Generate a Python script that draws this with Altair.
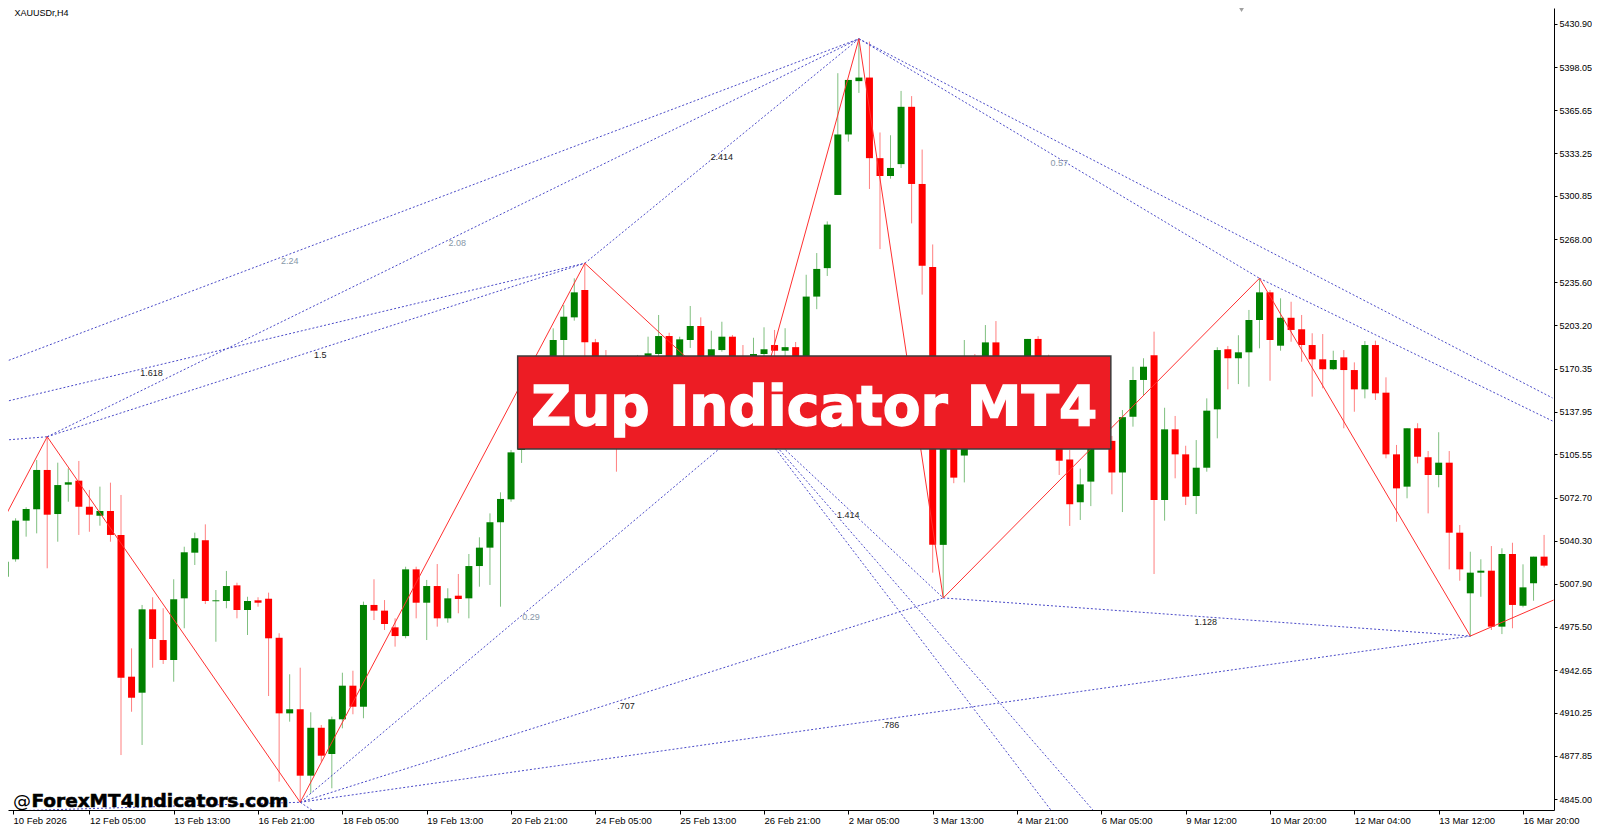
import json
import altair as alt
import pandas as pd

# ---------------- data ----------------
idx = list(range(147))
open_ = [5013.1, 5026.3, 5055.5, 5064.1, 5093.8, 5060.5, 5082.7, 5085.7, 5066.0, 5059.2,
         5062.8, 5044.7, 4937.6, 4925.5, 4988.5, 4965.3, 4950.2, 4996.8, 5031.3, 5040.7,
         4994.6, 4994.8, 5006.6, 4988.0, 4995.3, 4996.5, 4967.0, 4909.9, 4913.0, 4862.8,
         4899.0, 4879.2, 4905.4, 4930.8, 4914.9, 4991.8, 4987.5, 4974.9, 4968.3, 5018.7,
         4993.5, 5006.1, 4981.7, 4998.8, 4996.8, 5021.2, 5035.1, 5054.3, 5071.6, 5108.9,
         5146.7, 5167.8, 5161.8, 5192.0, 5209.1, 5229.8, 5190.3, 5173.1, 5163.3, 5146.7,
         5158.0, 5173.1, 5181.4, 5195.0, 5175.4, 5192.0, 5202.6, 5175.4, 5184.4, 5194.5,
         5170.8, 5146.7, 5181.4, 5188.2, 5183.9, 5186.6, 5173.1, 5224.8, 5246.3, 5301.6,
         5347.3, 5387.6, 5390.3, 5329.4, 5315.9, 5324.9, 5368.2, 5309.9, 5247.2, 5037.2,
         5124.0, 5104.7, 5161.8, 5146.7, 5190.2, 5161.8, 5146.7, 5165.5, 5192.8, 5165.5,
         5131.6, 5101.7, 5069.4, 5085.0, 5116.4, 5115.8, 5091.9, 5134.0, 5161.8, 5180.4,
         5071.1, 5124.5, 5105.6, 5074.1, 5095.5, 5139.6, 5185.0, 5178.2, 5182.7, 5207.1,
         5228.0, 5187.7, 5208.8, 5200.1, 5188.2, 5177.4, 5169.9, 5178.9, 5169.3, 5154.7,
         5188.2, 5152.2, 5105.6, 5081.2, 5125.3, 5103.4, 5090.0, 5099.3, 5046.4, 5000.6,
         5016.2, 5017.7, 4975.4, 5030.3, 4991.2, 5008.2, 5028.3]
high = [5033.3, 5057.3, 5065.6, 5101.3, 5118.9, 5099.3, 5095.0, 5100.6, 5078.7, 5081.2,
        5084.2, 5074.9, 4959.0, 4991.8, 4997.6, 4989.3, 5011.2, 5035.8, 5046.4, 5052.7,
        5003.1, 5017.5, 5008.6, 4998.0, 4997.6, 5001.1, 4970.4, 4939.4, 4944.4, 4910.7,
        4901.1, 4907.4, 4940.6, 4942.1, 4994.3, 5011.2, 4995.5, 4981.7, 5020.7, 5020.7,
        5010.7, 5022.7, 5004.4, 5015.2, 5030.3, 5042.9, 5061.0, 5076.9, 5108.9, 5152.7,
        5175.4, 5176.9, 5200.8, 5218.4, 5238.6, 5250.0, 5192.8, 5184.4, 5173.1, 5165.5,
        5180.7, 5194.5, 5210.9, 5197.5, 5194.5, 5217.7, 5209.1, 5199.0, 5205.8, 5195.8,
        5188.2, 5193.7, 5201.6, 5199.6, 5200.9, 5190.5, 5241.3, 5257.7, 5281.6, 5393.6,
        5388.5, 5419.6, 5417.5, 5348.8, 5346.7, 5380.2, 5376.3, 5335.9, 5264.2, 5131.6,
        5135.3, 5192.0, 5181.4, 5203.3, 5206.3, 5173.1, 5173.1, 5192.8, 5194.9, 5180.9,
        5146.7, 5108.9, 5094.8, 5124.0, 5124.0, 5119.5, 5139.1, 5171.8, 5178.2, 5198.3,
        5140.8, 5134.6, 5112.1, 5116.4, 5147.9, 5186.5, 5187.5, 5195.6, 5214.7, 5238.6,
        5229.8, 5223.5, 5220.9, 5210.9, 5197.1, 5196.5, 5183.9, 5184.4, 5175.1, 5191.2,
        5191.5, 5163.8, 5112.7, 5125.3, 5129.1, 5108.1, 5122.3, 5108.1, 5052.2, 5032.0,
        5026.3, 5036.3, 5034.6, 5038.8, 5022.5, 5028.3, 5044.7]
low = [5009.4, 5024.5, 5043.4, 5045.9, 5019.5, 5039.6, 5069.8, 5044.7, 5047.1, 5051.7,
       5039.6, 4878.4, 4911.1, 4886.0, 4944.4, 4947.2, 4933.8, 4974.2, 5022.0, 4992.5,
       4964.0, 4989.3, 4981.7, 4969.1, 4990.5, 4923.0, 4858.3, 4903.6, 4842.7, 4849.5,
       4873.4, 4853.3, 4898.6, 4909.2, 4906.2, 4980.4, 4972.9, 4960.3, 4966.6, 4981.7,
       4965.3, 4975.4, 4978.4, 4985.5, 4981.7, 5005.6, 5006.9, 4990.5, 5069.8, 5099.1,
       5139.1, 5150.4, 5155.7, 5178.4, 5206.6, 5176.9, 5161.8, 5152.7, 5092.5, 5131.6,
       5146.7, 5167.8, 5175.4, 5169.3, 5167.8, 5186.0, 5167.8, 5169.3, 5183.2, 5161.8,
       5142.9, 5131.6, 5167.8, 5173.1, 5175.4, 5167.8, 5167.8, 5215.3, 5240.4, 5301.6,
       5341.9, 5378.7, 5306.1, 5260.7, 5313.9, 5322.0, 5280.1, 5226.3, 5016.2, 4997.1,
       5083.8, 5084.4, 5131.6, 5139.1, 5150.4, 5135.3, 5131.6, 5158.0, 5154.2, 5135.3,
       5090.0, 5051.5, 5056.0, 5066.5, 5112.0, 5075.4, 5062.0, 5126.5, 5150.4, 5015.2,
       5055.5, 5087.5, 5067.3, 5060.5, 5092.5, 5117.7, 5154.7, 5158.7, 5156.7, 5185.7,
       5161.2, 5183.9, 5190.7, 5175.6, 5149.2, 5155.5, 5169.3, 5125.3, 5137.8, 5147.9,
       5146.7, 5102.6, 5054.7, 5072.4, 5098.8, 5061.0, 5080.7, 5018.7, 5010.1, 4967.8,
       4998.0, 4972.9, 4969.8, 4974.2, 4990.0, 4995.0, 5020.2]
close = [5024.5, 5055.5, 5064.3, 5093.8, 5060.0, 5082.4, 5084.5, 5066.0, 5060.0, 5062.8,
         5044.7, 4936.8, 4921.7, 4988.5, 4966.1, 4950.2, 4996.1, 5031.6, 5042.2, 4994.8,
         4995.3, 5006.1, 4988.0, 4994.8, 4993.5, 4966.6, 4909.9, 4913.0, 4862.8, 4899.0,
         4877.9, 4905.4, 4930.8, 4914.9, 4991.8, 4987.5, 4977.4, 4968.3, 5018.7, 4993.5,
         5006.1, 4981.7, 4996.8, 4996.3, 5021.2, 5035.1, 5054.3, 5071.9, 5107.1, 5146.7,
         5167.8, 5161.8, 5192.0, 5209.6, 5228.0, 5190.3, 5173.1, 5163.3, 5146.7, 5158.0,
         5173.1, 5181.9, 5195.0, 5175.4, 5192.5, 5202.6, 5175.4, 5185.0, 5194.5, 5170.8,
         5150.4, 5181.4, 5185.0, 5183.9, 5186.6, 5173.1, 5224.8, 5245.7, 5279.2, 5347.3,
         5388.5, 5390.3, 5329.4, 5315.9, 5322.0, 5368.2, 5309.9, 5248.1, 5037.2, 5124.0,
         5088.0, 5161.8, 5146.7, 5190.2, 5161.8, 5146.7, 5165.5, 5192.8, 5165.5, 5146.7,
         5100.8, 5067.9, 5082.9, 5116.4, 5115.0, 5091.9, 5133.7, 5161.8, 5171.8, 5071.1,
         5124.5, 5105.6, 5073.6, 5095.5, 5138.6, 5184.4, 5178.2, 5182.7, 5207.1, 5228.0,
         5192.0, 5208.8, 5199.6, 5188.2, 5177.4, 5169.9, 5176.9, 5169.3, 5154.7, 5188.2,
         5151.7, 5105.6, 5079.9, 5125.3, 5103.8, 5090.0, 5099.3, 5046.4, 5018.7, 5016.2,
         5017.7, 4975.4, 5030.3, 4991.8, 5005.1, 5028.3, 5021.5]

tick_idx = list(range(0, 145, 8))
tick_text = ["10 Feb 2026", "12 Feb 05:00", "13 Feb 13:00", "16 Feb 21:00", "18 Feb 05:00",
             "19 Feb 13:00", "20 Feb 21:00", "24 Feb 05:00", "25 Feb 13:00", "26 Feb 21:00",
             "2 Mar 05:00", "3 Mar 13:00", "4 Mar 21:00", "6 Mar 05:00", "9 Mar 12:00",
             "10 Mar 20:00", "12 Mar 04:00", "13 Mar 12:00", "16 Mar 20:00"]
y_ticks = [4845.00, 4877.85, 4910.25, 4942.65, 4975.50, 5007.90, 5040.30, 5072.70, 5105.55,
           5137.95, 5170.35, 5203.20, 5235.60, 5268.00, 5300.85, 5333.25, 5365.65, 5398.05,
           5430.90]

# ZigZag pivots
zz_idx = [0, 4, 28, 55, 71, 81, 89, 119, 139, 146.9]
zz_price = [5058.5, 5118.9, 4842.7, 5250.0, 5131.6, 5419.6, 4997.1, 5238.6, 4968.3, 4995.5]

# dotted ratio lines (start idx, start price, end idx, end price)
fib_x1 = [0, 4, 0, 4, 0, 55, 28, 0, 28, 28, 28, 71, 71, 71, 89, 81, 81, 119]
fib_p1 = [5175.6, 5118.9, 5145.4, 5118.9, 5116.4, 5250.0, 4842.7, 4836.0, 4842.7, 4842.7,
          4842.7, 5131.6, 5131.6, 5131.6, 4997.1, 5419.6, 5419.6, 5238.6]
fib_x2 = [81, 81, 55, 55, 4, 81, 71, 28, 30.8, 89, 139, 89, 100.0, 104.1, 139, 119, 146.8, 146.8]
fib_p2 = [5419.6, 5419.6, 5250.0, 5250.0, 5118.9, 5419.6, 5131.6, 4842.7, 4827.8, 4997.1,
          4968.3, 4997.1, 4828.6, 4828.6, 4968.3, 5238.6, 5148.2, 5130.8]

lab_text = ["2.24", "2.08", "1.618", "1.5", "2.414", "0.29", ".707", ".786", "1.414", "1.128", "0.57"]
lab_idx = [27.0, 42.9, 13.9, 29.9, 68.0, 49.9, 58.9, 84.0, 80.0, 113.9, 100.0]
lab_price = [5251.9, 5265.5, 5167.3, 5180.7, 5330.5, 4982.5, 4915.4, 4901.1, 5059.8, 4978.6, 5325.5]
lab_kind = ["grey", "grey", "dark", "dark", "dark", "grey", "dark", "dark", "dark", "dark", "grey"]

# ---------------- scales / layout ----------------
W, H = 1546, 802
X0 = 0.754
X1 = X0 + W / 10.61
P_TOP = 5442.86
P_BOT = P_TOP - H * 0.7556

XS = alt.Scale(domain=[X0, X1], nice=False, zero=False)
YS = alt.Scale(domain=[P_BOT, P_TOP], nice=False, zero=False)

x_vals = [max(v, X0) for v in tick_idx]
x_axis = alt.Axis(values=x_vals, labelExpr=json.dumps(tick_text) + "[round(datum.value/8)]",
                  orient="bottom", grid=False, domainColor="#000", tickColor="#000", tickSize=4,
                  labelAlign="left", labelBaseline="top", labelPadding=1,
                  labelFont="Liberation Sans", labelFontSize=9.5, labelColor="#000",
                  labelOverlap=False, labelFlush=False, labelBound=False, title=None)
y_axis = alt.Axis(values=y_ticks, format=".2f", orient="right", grid=False,
                  domainColor="#000", tickColor="#000", tickSize=3, labelPadding=2,
                  labelFont="Liberation Sans", labelFontSize=9, labelColor="#000",
                  labelOverlap=False, labelFlush=False, title=None)


def X(f):
    return alt.X(f"{f}:Q", scale=XS, axis=x_axis, title=None)


def Y(f):
    return alt.Y(f"{f}:Q", scale=YS, axis=y_axis, title=None)


df = pd.DataFrame({"idx": idx, "open": open_, "high": high, "low": low, "close": close})
df["dir"] = ["up" if c >= o else "down" for o, c in zip(open_, close)]
col = alt.Color("dir:N", scale=alt.Scale(domain=["up", "down"], range=["#008000", "#ff0000"]), legend=None)

base = alt.Chart(df)
wicks = base.mark_rule(strokeWidth=1, opacity=0.5, clip=True).encode(
    x=X("idx"), y=Y("low"), y2=alt.Y2("high"), color=col)
bodies = base.mark_bar(size=7, clip=True).encode(
    x=X("idx"), y=Y("open"), y2=alt.Y2("close"), color=col)

fib_df = pd.DataFrame({"x1": fib_x1, "p1": fib_p1, "x2": fib_x2, "p2": fib_p2})
fib = alt.Chart(fib_df).mark_rule(color="#4a4ac8", strokeWidth=1, strokeDash=[2, 2], clip=True).encode(
    x=X("x1"), y=Y("p1"), x2=alt.X2("x2"), y2=alt.Y2("p2"))

lab_df = pd.DataFrame({"t": lab_text, "i": lab_idx, "p": lab_price, "k": lab_kind})
lab_grey = alt.Chart(lab_df).transform_filter("datum.k == 'grey'").mark_text(
    font="Liberation Sans", fontSize=9, color="#8797a8", align="center", baseline="middle").encode(
    x=X("i"), y=Y("p"), text="t:N")
lab_dark = alt.Chart(lab_df).transform_filter("datum.k == 'dark'").mark_text(
    font="Liberation Sans", fontSize=9, color="#222222", align="center", baseline="middle").encode(
    x=X("i"), y=Y("p"), text="t:N")

zz_df = pd.DataFrame({"i": zz_idx, "p": zz_price})
zigzag = alt.Chart(zz_df).mark_line(color="#ff3030", strokeWidth=1, clip=True).encode(
    x=X("i"), y=Y("p"), order=alt.Order("i:Q"))

# banner and captions
ban_df = pd.DataFrame({"a": [48.63], "b": [104.9], "top": [5179.9], "bot": [5109.6]})
banner = alt.Chart(ban_df).mark_rect(fill="#ed1c24", stroke="#3c3c3c", strokeWidth=1.5).encode(
    x=X("a"), x2=alt.X2("b"), y=Y("top"), y2=alt.Y2("bot"))
bt_df = pd.DataFrame({"i": [76.77], "p": [5127.8], "t": ["Zup Indicator MT4"]})
banner_text = alt.Chart(bt_df).mark_text(font="DejaVu Sans", fontWeight="bold", fontSize=55,
                                         color="white", stroke="white", strokeWidth=1.4,
                                         align="center", baseline="alphabetic").encode(
    x=X("i"), y=Y("p"), text="t:N")

wm_idx = [X0, 2.5]
wm_text = ["@", "ForexMT4Indicators.com"]
wm_weight = ["normal", "bold"]
wm_df = pd.DataFrame({"i": wm_idx, "p": [4839.3, 4839.3], "t": wm_text, "w": wm_weight})
wm_at = alt.Chart(wm_df).transform_filter("datum.w == 'normal'").mark_text(
    font="DejaVu Sans", fontSize=18, color="#000", align="left", baseline="alphabetic").encode(
    x=X("i"), y=Y("p"), text="t:N")
wm_name = alt.Chart(wm_df).transform_filter("datum.w == 'bold'").mark_text(
    font="DejaVu Sans", fontWeight="bold", fontSize=18.5, color="#000", stroke="#000",
    strokeWidth=0.6, align="left", baseline="alphabetic").encode(
    x=X("i"), y=Y("p"), text="t:N")

ttl_df = pd.DataFrame({"i": [X0 + 0.15], "p": [P_TOP], "t": ["XAUUSDr,H4"]})
title = alt.Chart(ttl_df).mark_text(font="Liberation Sans", fontSize=9, color="#000",
                                    align="left", baseline="top", dy=1).encode(
    x=X("i"), y=Y("p"), text="t:N")

mk_df = pd.DataFrame({"i": [117.3], "p": [P_TOP]})
marker = alt.Chart(mk_df).mark_point(shape="triangle-down", filled=True, color="#a0a0a0",
                                     size=90, opacity=1).encode(x=X("i"), y=Y("p"))

chart = alt.layer(wicks, bodies, fib, lab_grey, lab_dark, zigzag, banner, banner_text,
                  wm_at, wm_name, title, marker).properties(
    width=W, height=H,
    padding={"left": 0, "top": 0, "right": 38, "bottom": 14},
    autosize=alt.AutoSizeParams(type="none"),
    background="white",
).configure_view(strokeWidth=0)

chart.save("out.html", embed_options={"renderer": "svg", "actions": False})
